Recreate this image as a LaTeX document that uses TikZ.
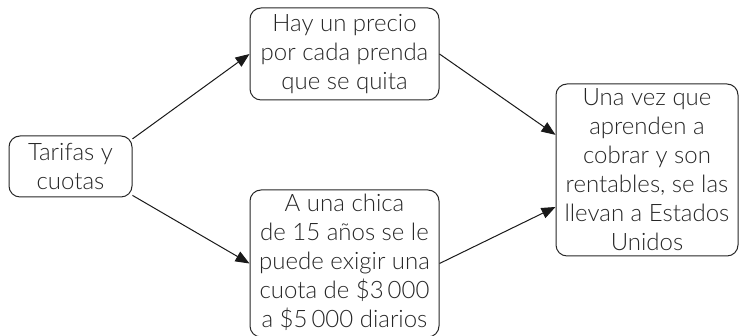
\documentclass[tikz,border=0pt]{standalone}
\usepackage{fontspec}
\setmainfont{Lato}[UprightFont={* Light}]
\usetikzlibrary{arrows.meta,calc}
\tikzset{
  box/.style={draw=black!85, line width=1pt, rounded corners=11pt, inner sep=0pt},
  txt/.style={align=center, text=black!85, font=\fontsize{24}{29}\selectfont, inner sep=0pt},
  conn/.style={draw=black!90, line width=1pt, -{Triangle[length=14pt,width=11pt]}}
}
\begin{document}
\begin{tikzpicture}[x=1pt,y=1pt]
\useasboundingbox (0,0) rectangle (740,336);
\node[box, minimum width=123pt, minimum height=61pt] (tar) at (70.5,169.5) {};
\node[txt] (tart) at (tar.center) {Tarifas y\\cuotas};
\node[box, minimum width=189pt, minimum height=92pt] (hay) at (344.5,282) {};
\node[txt] (hayt) at (hay.center) {Hay un precio\\por cada prenda\\que se quita};
\node[box, minimum width=189pt, minimum height=147pt] (chica) at (344.5,72.5) {};
\node[txt] (chicat) at ($(chica.center)+(0,1.5)$) {A una chica\\de 15 años se le\\puede exigir una\\cuota de \$3\,000\\a \$5\,000 diarios};
\node[box, minimum width=182pt, minimum height=172pt] (una) at (647,166) {};
\node[txt] (unat) at (una.center) {Una vez que\\aprenden a\\cobrar y son\\rentables, se las\\llevan a Estados\\Unidos};
\draw[conn] (tar.24) -- (hay.west);
\draw[conn] (tar.-25.6) -- (chica.west);
\draw[conn] (hay.east) -- (una.159.5);
\draw[conn] (chica.east) -- (una.202);
\end{tikzpicture}
\end{document}
